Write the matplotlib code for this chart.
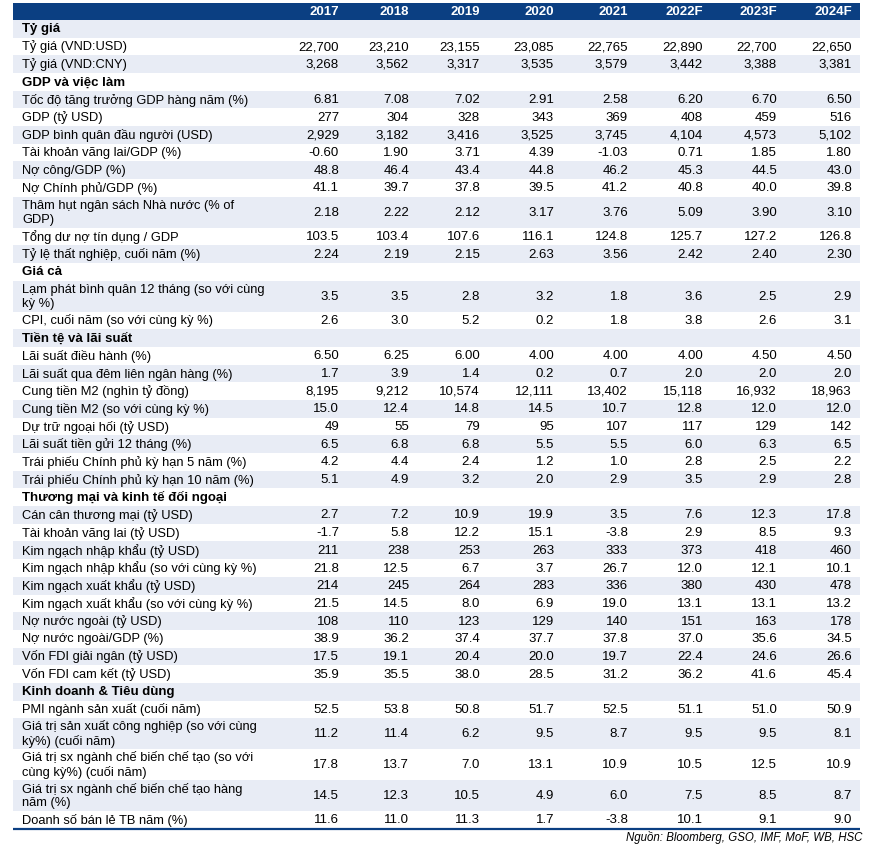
import matplotlib
matplotlib.use("Agg")
from matplotlib import pyplot as plt
from matplotlib.patches import Rectangle

plt.rcParams['font.family'] = ['Liberation Sans', 'DejaVu Sans']

years = ['2017', '2018', '2019', '2020', '2021', '2022F', '2023F', '2024F']

sec_fx = 'Tỷ giá'
rows_fx = [
    ('Tỷ giá (VND:USD)', ['22,700', '23,210', '23,155', '23,085', '22,765', '22,890', '22,700', '22,650']),
    ('Tỷ giá (VND:CNY)', ['3,268', '3,562', '3,317', '3,535', '3,579', '3,442', '3,388', '3,381']),
]

sec_gdp = 'GDP và việc làm'
rows_gdp = [
    ('Tốc độ tăng trưởng GDP hàng năm (%)', ['6.81', '7.08', '7.02', '2.91', '2.58', '6.20', '6.70', '6.50']),
    ('GDP (tỷ USD)', ['277', '304', '328', '343', '369', '408', '459', '516']),
    ('GDP bình quân đầu người (USD)', ['2,929', '3,182', '3,416', '3,525', '3,745', '4,104', '4,573', '5,102']),
    ('Tài khoản vãng lai/GDP (%)', ['-0.60', '1.90', '3.71', '4.39', '-1.03', '0.71', '1.85', '1.80']),
    ('Nợ công/GDP (%)', ['48.8', '46.4', '43.4', '44.8', '46.2', '45.3', '44.5', '43.0']),
    ('Nợ Chính phủ/GDP (%)', ['41.1', '39.7', '37.8', '39.5', '41.2', '40.8', '40.0', '39.8']),
    ('Thâm hụt ngân sách Nhà nước (% of\nGDP)', ['2.18', '2.22', '2.12', '3.17', '3.76', '5.09', '3.90', '3.10']),
    ('Tổng dư nợ tín dụng / GDP', ['103.5', '103.4', '107.6', '116.1', '124.8', '125.7', '127.2', '126.8']),
    ('Tỷ lệ thất nghiệp, cuối năm (%)', ['2.24', '2.19', '2.15', '2.63', '3.56', '2.42', '2.40', '2.30']),
]

sec_price = 'Giá cả'
rows_price = [
    ('Lạm phát bình quân 12 tháng (so với cùng\nkỳ %)', ['3.5', '3.5', '2.8', '3.2', '1.8', '3.6', '2.5', '2.9']),
    ('CPI, cuối năm (so với cùng kỳ %)', ['2.6', '3.0', '5.2', '0.2', '1.8', '3.8', '2.6', '3.1']),
]

sec_money = 'Tiền tệ và lãi suất'
rows_money = [
    ('Lãi suất điều hành (%)', ['6.50', '6.25', '6.00', '4.00', '4.00', '4.00', '4.50', '4.50']),
    ('Lãi suất qua đêm liên ngân hàng (%)', ['1.7', '3.9', '1.4', '0.2', '0.7', '2.0', '2.0', '2.0']),
    ('Cung tiền M2 (nghìn tỷ đồng)', ['8,195', '9,212', '10,574', '12,111', '13,402', '15,118', '16,932', '18,963']),
    ('Cung tiền M2 (so với cùng kỳ %)', ['15.0', '12.4', '14.8', '14.5', '10.7', '12.8', '12.0', '12.0']),
    ('Dự trữ ngoại hối (tỷ USD)', ['49', '55', '79', '95', '107', '117', '129', '142']),
    ('Lãi suất tiền gửi 12 tháng (%)', ['6.5', '6.8', '6.8', '5.5', '5.5', '6.0', '6.3', '6.5']),
    ('Trái phiếu Chính phủ kỳ hạn 5 năm (%)', ['4.2', '4.4', '2.4', '1.2', '1.0', '2.8', '2.5', '2.2']),
    ('Trái phiếu Chính phủ kỳ hạn 10 năm (%)', ['5.1', '4.9', '3.2', '2.0', '2.9', '3.5', '2.9', '2.8']),
]

sec_trade = 'Thương mại và kinh tế đối ngoại'
rows_trade = [
    ('Cán cân thương mại (tỷ USD)', ['2.7', '7.2', '10.9', '19.9', '3.5', '7.6', '12.3', '17.8']),
    ('Tài khoản vãng lai (tỷ USD)', ['-1.7', '5.8', '12.2', '15.1', '-3.8', '2.9', '8.5', '9.3']),
    ('Kim ngạch nhập khẩu (tỷ USD)', ['211', '238', '253', '263', '333', '373', '418', '460']),
    ('Kim ngạch nhập khẩu (so với cùng kỳ %)', ['21.8', '12.5', '6.7', '3.7', '26.7', '12.0', '12.1', '10.1']),
    ('Kim ngạch xuất khẩu (tỷ USD)', ['214', '245', '264', '283', '336', '380', '430', '478']),
    ('Kim ngạch xuất khẩu (so với cùng kỳ %)', ['21.5', '14.5', '8.0', '6.9', '19.0', '13.1', '13.1', '13.2']),
    ('Nợ nước ngoài (tỷ USD)', ['108', '110', '123', '129', '140', '151', '163', '178']),
    ('Nợ nước ngoài/GDP (%)', ['38.9', '36.2', '37.4', '37.7', '37.8', '37.0', '35.6', '34.5']),
    ('Vốn FDI giải ngân (tỷ USD)', ['17.5', '19.1', '20.4', '20.0', '19.7', '22.4', '24.6', '26.6']),
    ('Vốn FDI cam kết (tỷ USD)', ['35.9', '35.5', '38.0', '28.5', '31.2', '36.2', '41.6', '45.4']),
]

sec_biz = 'Kinh doanh & Tiêu dùng'
rows_biz = [
    ('PMI ngành sản xuất (cuối năm)', ['52.5', '53.8', '50.8', '51.7', '52.5', '51.1', '51.0', '50.9']),
    ('Giá trị sản xuất công nghiệp (so với cùng\nkỳ%) (cuối năm)', ['11.2', '11.4', '6.2', '9.5', '8.7', '9.5', '9.5', '8.1']),
    ('Giá trị sx ngành chế biến chế tạo (so với\ncùng kỳ%) (cuối năm)', ['17.8', '13.7', '7.0', '13.1', '10.9', '10.5', '12.5', '10.9']),
    ('Giá trị sx ngành chế biến chế tạo hàng\nnăm (%)', ['14.5', '12.3', '10.5', '4.9', '6.0', '7.5', '8.5', '8.7']),
    ('Doanh số bán lẻ TB năm (%)', ['11.6', '11.0', '11.3', '1.7', '-3.8', '10.1', '9.1', '9.0']),
]

source = 'Nguồn: Bloomberg, GSO, IMF, MoF, WB, HSC'

sections = [
    (sec_fx, rows_fx), (sec_gdp, rows_gdp), (sec_price, rows_price),
    (sec_money, rows_money), (sec_trade, rows_trade), (sec_biz, rows_biz),
]

NAVY = '#0b3f82'
STRIPE = '#e8ecf5'
W, H = 874, 847
left, right = 13, 860
col_x = [339, 409, 480, 554, 628, 703, 777, 852]
head_top, head_bot = 3, 20
h1 = 17.68
h2 = 30.9
fs = 9.3

fig = plt.figure(figsize=(W / 100, H / 100), dpi=100)
ax = fig.add_axes([0, 0, 1, 1])
ax.set_xlim(0, W)
ax.set_ylim(H, 0)
ax.axis('off')

# header band
ax.add_patch(Rectangle((left, head_top), right - left, head_bot - head_top,
                       facecolor=NAVY, edgecolor='none'))
for x, yr in zip(col_x, years):
    ax.text(x, (head_top + head_bot) / 2 + 0.5, yr, ha='right', va='center',
            color='white', fontsize=fs + 0.2, fontweight='bold')

# flatten sections into one list of rows
table = []
for name, rows in sections:
    table.append((name, None))
    table.extend(rows)

y = head_bot
for i, (label, vals) in enumerate(table):
    h = h2 if '\n' in label else h1
    if i % 2 == 0:
        ax.add_patch(Rectangle((left, y), right - left, h,
                               facecolor=STRIPE, edgecolor='none'))
    yc = y + h / 2 + 0.5
    if vals is None:
        ax.text(22, yc, label, ha='left', va='center', fontsize=fs + 0.2,
                fontweight='bold', color='black')
    else:
        ax.text(22, yc, label, ha='left', va='center', fontsize=fs,
                color='black', linespacing=1.2)
        for x, v in zip(col_x, vals):
            ax.text(x, yc, v, ha='right', va='center', fontsize=fs + 0.2,
                    color='black')
    y += h

ax.plot([left, right], [y, y], color=NAVY, lw=1.6, solid_capstyle='butt')
ax.text(862, y + 9, source, ha='right', va='center', fontsize=8.3,
        style='italic', color='black')

fig.savefig('out.png', dpi=100)
